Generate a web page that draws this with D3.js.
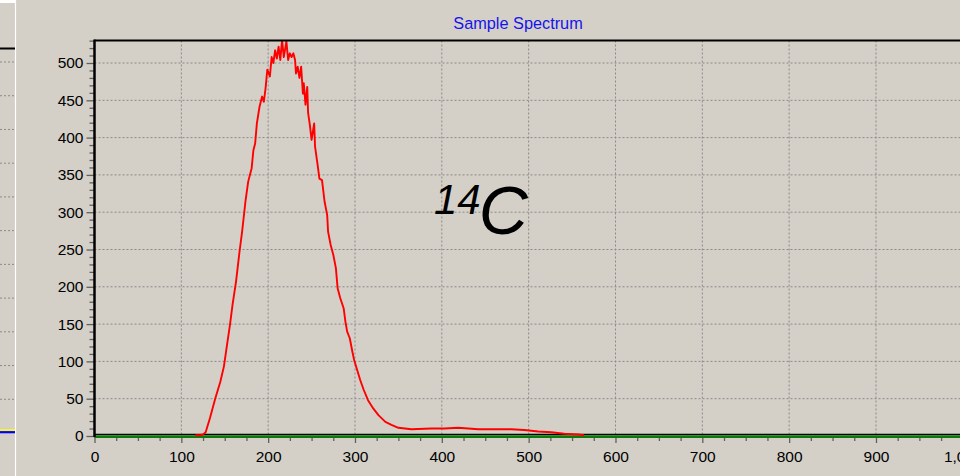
<!DOCTYPE html>
<html>
<head>
<meta charset="utf-8">
<script src="https://cdn.jsdelivr.net/npm/d3@7"></script>
<style>
  html, body { margin: 0; padding: 0; background: #d4d0c8; }
  svg { display: block; font-family: "Liberation Sans", Arial, sans-serif; }
</style>
</head>
<body>
<div id="root"></div>
<script>
// spectrum (channel -> counts)
const channels = [116, 122, 125, 128, 133, 139, 145, 149, 152, 156, 159, 163, 167, 170, 174, 177, 181, 183,
  185, 187, 190, 193, 195, 197, 199, 202, 204, 206, 208, 210, 212, 214, 216, 218, 221, 223, 225, 227, 229,
  231, 232, 234, 236, 238, 240, 241, 243, 245, 246, 248, 250, 253, 254, 257, 259, 262, 265, 268, 269, 272,
  275, 278, 280, 283, 287, 289, 291, 294, 297, 299, 306, 310, 315, 321, 327, 335, 342, 350, 365, 388, 403,
  419, 442, 461, 480, 495, 511, 526, 541, 557, 564];
const counts = [1, 1, 2, 5, 24, 50, 73, 93, 117, 149, 176, 207, 247, 274, 316, 341, 359, 383,
  392, 419, 441, 455, 448, 466, 491, 482, 508, 500, 517, 506, 522, 504, 531, 508, 529, 504, 513, 508, 513,
  504, 486, 495, 480, 495, 459, 473, 444, 468, 433, 417, 397, 419, 388, 363, 345, 343, 314, 296, 274, 256,
  243, 225, 198, 185, 171, 153, 140, 131, 113, 102, 75, 62, 48, 37, 28, 19, 15, 11, 9, 10, 10,
  11, 9, 9, 9, 8, 6, 5, 3, 2, 1];

// second (green) series, flat zero
const bgChannels = [0, 1000];
const bgCounts = [0, 0];

const xTicks = [0, 100, 200, 300, 400, 500, 600, 700, 800, 900, 1000];
const yTicks = [0, 50, 100, 150, 200, 250, 300, 350, 400, 450, 500];

const title = "Sample Spectrum";
const isotopeMass = "14", isotopeName = "C";

const W = 960, H = 476;
const svg = d3.select('#root').append('svg')
  .attr('width', W).attr('height', H);

svg.append('rect').attr('width', W).attr('height', H).attr('fill', '#d4d0c8');

const x = d3.scaleLinear().domain([0, 1000]).range([94.5, 962.8]);
const y = d3.scaleLinear().domain([0, 500]).range([436, 63]);
const plotTop = 40.5;

// --- neighbouring panel at the far left (only its edge is visible)
const leftY = d3.scaleLinear().domain([0, 11]).range([433, 62]);
const left = svg.append('g');
left.append('rect').attr('x', 0).attr('y', 0).attr('width', 15).attr('height', 3).attr('fill', '#fff');
left.append('line').attr('x1', 15.5).attr('x2', 15.5).attr('y1', 0).attr('y2', H)
  .attr('stroke', '#fff').attr('stroke-width', 1.2);
left.selectAll('.lg').data(d3.range(1, 12)).enter().append('line')
  .attr('x1', 0).attr('x2', 14).attr('y1', d => leftY(d)).attr('y2', d => leftY(d))
  .attr('stroke', '#8a8a8a').attr('stroke-dasharray', '2,2');
left.append('line').attr('x1', 0).attr('x2', 15).attr('y1', 48.5).attr('y2', 48.5)
  .attr('stroke', '#000').attr('stroke-width', 2);
left.append('line').attr('x1', 0).attr('x2', 15).attr('y1', leftY(0) - 3).attr('y2', leftY(0) - 3)
  .attr('stroke', '#ffff00').attr('stroke-width', 1.6);
left.append('line').attr('x1', 0).attr('x2', 15).attr('y1', leftY(0) - 0.8).attr('y2', leftY(0) - 0.8)
  .attr('stroke', '#0000ff').attr('stroke-width', 2.2);

// --- grid
const grid = svg.append('g').attr('stroke', '#8a8a8a').attr('stroke-dasharray', '2,2');
grid.selectAll('.gx').data(xTicks.slice(1)).enter().append('line')
  .attr('x1', d => x(d)).attr('x2', d => x(d)).attr('y1', plotTop).attr('y2', y(0));
grid.selectAll('.gy').data(yTicks.slice(1)).enter().append('line')
  .attr('x1', x(0)).attr('x2', W).attr('y1', d => y(d)).attr('y2', d => y(d));

// --- axes
const fmt = d3.format(',');
const xAxis = svg.append('g').attr('transform', `translate(0,${y(0)})`)
  .call(d3.axisBottom(x).tickValues(xTicks).tickFormat(fmt).tickSize(7).tickPadding(8));
const xMinor = svg.append('g').attr('transform', `translate(0,${y(0)})`)
  .call(d3.axisBottom(x).tickValues(d3.range(0, 1001, 25).filter(v => v % 100)).tickFormat('').tickSize(5));
const yAxis = svg.append('g').attr('transform', `translate(${x(0)},0)`)
  .call(d3.axisLeft(y).tickValues(yTicks).tickSize(8).tickPadding(3));
const yMinor = svg.append('g').attr('transform', `translate(${x(0)},0)`)
  .call(d3.axisLeft(y).tickValues(d3.range(0, 531, 10).filter(v => v % 50)).tickFormat('').tickSize(5));

[xAxis, xMinor, yAxis, yMinor].forEach(g => {
  g.select('.domain').remove();
  g.selectAll('line').attr('stroke', '#606060').attr('stroke-width', 1.3);
  g.selectAll('text').attr('fill', '#000').style('font-size', '15.5px')
    .style('font-family', '"Liberation Sans", Arial, sans-serif');
});

// --- series
svg.append('clipPath').attr('id', 'plotClip').append('rect')
  .attr('x', x(0)).attr('y', plotTop).attr('width', W - x(0)).attr('height', y(0) - plotTop + 3);

const line = d3.line().x(d => x(d[0])).y(d => y(d[1]));

svg.append('line')
  .attr('x1', x(0)).attr('x2', W).attr('y1', y(0) - 1.6).attr('y2', y(0) - 1.6)
  .attr('stroke', '#000').attr('stroke-width', 1.2);

svg.append('path')
  .datum(bgChannels.map((c, i) => [c, bgCounts[i]]))
  .attr('d', line)
  .attr('transform', 'translate(0,0.6)')
  .attr('fill', 'none').attr('stroke', '#0b7a0b').attr('stroke-width', 2.6);

svg.append('path')
  .datum(channels.map((c, i) => [c, counts[i]]))
  .attr('d', line)
  .attr('clip-path', 'url(#plotClip)')
  .attr('fill', 'none').attr('stroke', '#ff0000').attr('stroke-width', 1.9)
  .attr('stroke-linejoin', 'round');

// --- frame
svg.append('line').attr('x1', x(0)).attr('x2', W).attr('y1', plotTop).attr('y2', plotTop)
  .attr('stroke', '#000').attr('stroke-width', 2);
svg.append('line').attr('x1', x(0)).attr('x2', x(0)).attr('y1', plotTop - 1).attr('y2', y(0) + 1)
  .attr('stroke', '#000').attr('stroke-width', 2.5);

// --- texts
svg.append('text')
  .attr('x', 518).attr('y', 29)
  .attr('text-anchor', 'middle')
  .attr('fill', '#1414ee')
  .style('font-size', '16.3px')
  .text(title);

const label = svg.append('text')
  .attr('x', x(391)).attr('y', y(271))
  .attr('fill', '#000')
  .style('font-style', 'italic');
label.append('tspan').attr('dy', -20).style('font-size', '42px').text(isotopeMass);
label.append('tspan').attr('dx', -2).attr('dy', 20).style('font-size', '68px').text(isotopeName);
</script>
</body>
</html>
